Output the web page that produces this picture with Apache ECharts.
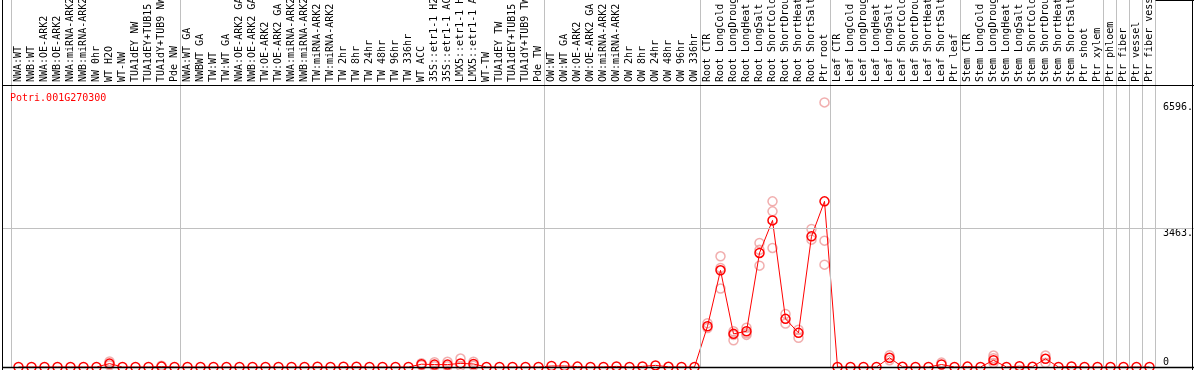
<!DOCTYPE html>
<html>
<head>
<meta charset="utf-8">
<script src="https://cdn.jsdelivr.net/npm/echarts@6/dist/echarts.min.js"></script>
<style>
html, body { margin: 0; padding: 0; background: #fff; }
#chart { width: 1194px; height: 370px; }
</style>
</head>
<body>
<div id="chart"></div>
<script>
// valeurs
const geneId = 'Potri.001G270300';

const categories = [
    'NWA:WT', 'NWB:WT', 'NWA:OE-ARK2', 'NWB:OE-ARK2', 'NWA:miRNA-ARK2', 'NWB:miRNA-ARK2',
    'NW 0hr', 'WT H2O', 'WT-NW', 'TUA1dEY NW', 'TUA1dEY+TUB15 NW', 'TUA1dY+TUB9 NW', 'Pde NW',
    'NWA:WT GA', 'NWBWT GA', 'TW:WT', 'TW:WT GA', 'NWA:OE-ARK2 GA', 'NWB:OE-ARK2 GA',
    'TW:OE-ARK2', 'TW:OE-ARK2 GA', 'NWA:miRNA-ARK2', 'NWB:miRNA-ARK2', 'TW:miRNA-ARK2',
    'TW:miRNA-ARK2', 'TW 2hr', 'TW 8hr', 'TW 24hr', 'TW 48hr', 'TW 96hr', 'TW 336hr',
    'WT ACC', '35S::etr1-1 H2O', '35S::etr1-1 ACC', 'LMX5::etr1-1 H2O', 'LMX5::etr1-1 ACC',
    'WT-TW', 'TUA1dEY TW', 'TUA1dEY+TUB15 TW', 'TUA1dY+TUB9 TW', 'Pde TW',
    'OW:WT', 'OW:WT GA', 'OW:OE-ARK2', 'OW:OE-ARK2 GA', 'OW:miRNA-ARK2', 'OW:miRNA-ARK2',
    'OW 2hr', 'OW 8hr', 'OW 24hr', 'OW 48hr', 'OW 96hr', 'OW 336hr',
    'Root CTR', 'Root LongCold', 'Root LongDrought', 'Root LongHeat', 'Root LongSalt',
    'Root ShortCold', 'Root ShortDrought', 'Root ShortHeat', 'Root ShortSalt', 'Ptr root',
    'Leaf CTR', 'Leaf LongCold', 'Leaf LongDrought', 'Leaf LongHeat', 'Leaf LongSalt',
    'Leaf ShortCold', 'Leaf ShortDrought', 'Leaf ShortHeat', 'Leaf ShortSalt', 'Ptr leaf',
    'Stem CTR', 'Stem LongCold', 'Stem LongDrought', 'Stem LongHeat', 'Stem LongSalt',
    'Stem ShortCold', 'Stem ShortDrought', 'Stem ShortHeat', 'Stem ShortSalt', 'Ptr shoot',
    'Ptr xylem', 'Ptr phloem', 'Ptr fiber', 'Ptr vessel', 'Ptr fiber vessel'
];

const meanValues = [
    0, 0, 0, 0, 0, 0, 0, 85, 0, 0, 0, 10, 0,
    0, 0, 0, 0, 0, 0, 0, 0, 0, 0, 8, 0, 8, 8, 0, 0, 0, 0,
    70, 60, 60, 90, 75, 0, 0, 0, 0, 0,
    25, 25, 10, 0, 3, 15, 0, 15, 40, 5, 0, 0,
    1016, 2410, 826, 891, 2843, 3655, 1200, 851, 3257, 4129,
    0, 0, 0, 0, 229, 5, 0, 0, 62, 0,
    10, 0, 169, 0, 20, 5, 204, 0, 15, 0,
    0, 0, 0, 0, 0
];

// répliques visibles (les autres sont cachées sous la moyenne)
const replicatePoints = [
    ['WT H2O', 135], ['WT H2O', 45], ['TUA1dY+TUB9 NW', 30],
    ['WT ACC', 95], ['WT ACC', 45],
    ['35S::etr1-1 H2O', 120], ['35S::etr1-1 H2O', 20],
    ['35S::etr1-1 ACC', 130], ['35S::etr1-1 ACC', 20],
    ['LMX5::etr1-1 H2O', 210], ['LMX5::etr1-1 H2O', 25],
    ['LMX5::etr1-1 ACC', 130], ['LMX5::etr1-1 ACC', 30],
    ['Root CTR', 1090], ['Root CTR', 970],
    ['Root LongCold', 2759], ['Root LongCold', 2470], ['Root LongCold', 1955],
    ['Root LongDrought', 890], ['Root LongDrought', 667], ['Root LongDrought', 800],
    ['Root LongHeat', 980], ['Root LongHeat', 840], ['Root LongHeat', 800],
    ['Root LongSalt', 3092], ['Root LongSalt', 2920], ['Root LongSalt', 2527],
    ['Root ShortCold', 4129], ['Root ShortCold', 3880], ['Root ShortCold', 2968],
    ['Root ShortDrought', 1324], ['Root ShortDrought', 1083],
    ['Root ShortHeat', 930], ['Root ShortHeat', 727],
    ['Root ShortSalt', 3441], ['Root ShortSalt', 3175],
    ['Ptr root', 6596], ['Ptr root', 3150], ['Ptr root', 2552],
    ['Leaf LongSalt', 290], ['Leaf LongSalt', 170], ['Leaf ShortSalt', 110],
    ['Stem LongDrought', 286], ['Stem LongDrought', 220], ['Stem LongDrought', 100],
    ['Stem ShortDrought', 286], ['Stem ShortDrought', 104]
];

const yTickValues = [0, 3463, 6596];
const yTickLabels = ['0', '3463.', '6596.'];
const yMax = 7030;

// séparateurs de groupes : après ces catégories
const groupEnds = ['Pde NW', 'Pde TW', 'OW 336hr', 'Ptr root', 'Ptr leaf',
    'Ptr xylem', 'Ptr phloem', 'Ptr fiber', 'Ptr vessel', 'Ptr fiber vessel'];

const mono = 'DejaVu Sans Mono';
const W = 1194, H = 370;

var dom = document.getElementById('chart');
var myChart = echarts.init(dom, null, { renderer: 'canvas' });

var option = {
    animation: false,
    backgroundColor: '#fff',
    title: {
        text: geneId,
        left: 10,
        top: 93,
        padding: 0,
        textStyle: { color: '#ff0000', fontFamily: mono, fontSize: 10, fontWeight: 'normal' }
    },
    grid: { left: 12, right: 38, top: 85, bottom: 3, containLabel: false, outerBoundsMode: 'none' },
    xAxis: {
        type: 'category',
        position: 'top',
        data: categories,
        boundaryGap: true,
        axisLine: { show: false },
        axisTick: { show: false },
        splitLine: { show: false },
        axisLabel: {
            interval: 0,
            rotate: 90,
            margin: 3,
            color: '#000',
            fontFamily: mono,
            fontSize: 10,
            hideOverlap: false
        }
    },
    yAxis: {
        type: 'value',
        position: 'right',
        min: 0,
        max: yMax,
        axisLine: { show: false },
        axisTick: { show: false },
        splitLine: { show: false },
        axisLabel: {
            customValues: yTickValues,
            margin: 7,
            color: '#000',
            fontFamily: mono,
            fontSize: 10,
            align: 'left',
            verticalAlign: 'top',
            verticalAlignMinLabel: 'bottom',
            formatter: function (v) {
                return yTickLabels[yTickValues.indexOf(v)];
            }
        }
    },
    series: [
        {
            name: 'replicates',
            type: 'scatter',
            z: 1,
            symbol: 'circle',
            symbolSize: 9,
            itemStyle: { color: 'rgba(0,0,0,0)', borderColor: '#ee9a9a', borderWidth: 1.5 },
            data: replicatePoints.map(p => [categories.indexOf(p[0]), p[1]])
        },
        {
            name: 'mean',
            type: 'line',
            z: 3,
            symbol: 'circle',
            symbolSize: 9,
            showAllSymbol: true,
            lineStyle: { color: '#ff0000', width: 1 },
            itemStyle: { color: 'rgba(0,0,0,0)', borderColor: '#ff0000', borderWidth: 1.5 },
            data: meanValues
        }
    ]
};

myChart.setOption(option);

// cadre et séparateurs
function drawFrame() {
    const yTop = myChart.convertToPixel({ yAxisIndex: 0 }, yMax);
    const yZero = myChart.convertToPixel({ yAxisIndex: 0 }, 0);
    const yMid = myChart.convertToPixel({ yAxisIndex: 0 }, yTickValues[1]);
    const half = (myChart.convertToPixel({ xAxisIndex: 0 }, 1) - myChart.convertToPixel({ xAxisIndex: 0 }, 0)) / 2;
    const gray = '#c0c0c0';
    let els = [];
    let xs = [myChart.convertToPixel({ xAxisIndex: 0 }, 0) - half];
    groupEnds.forEach(name => {
        xs.push(myChart.convertToPixel({ xAxisIndex: 0 }, categories.lastIndexOf(name)) + half);
    });
    xs.forEach(x => {
        els.push({ type: 'line', z: 5, silent: true,
            shape: { x1: Math.round(x) - 0.5, y1: 0, x2: Math.round(x) - 0.5, y2: yZero },
            style: { stroke: gray, lineWidth: 1 } });
    });
    els.push({ type: 'line', z: 5, silent: true,
        shape: { x1: 2, y1: Math.round(yMid) + 0.5, x2: W, y2: Math.round(yMid) + 0.5 },
        style: { stroke: gray, lineWidth: 1 } });
    // bords noirs
    const xLast = Math.round(xs[xs.length - 1]) - 0.5;
    els.push({ type: 'line', z: 10, silent: true,
        shape: { x1: xLast, y1: 0.5, x2: W, y2: 0.5 },
        style: { stroke: '#000', lineWidth: 1 } });
    els.push({ type: 'line', z: 10, silent: true,
        shape: { x1: 2, y1: Math.round(yTop) + 0.5, x2: W, y2: Math.round(yTop) + 0.5 },
        style: { stroke: '#000', lineWidth: 1 } });
    els.push({ type: 'line', z: 10, silent: true,
        shape: { x1: 2, y1: Math.round(yZero) + 0.5, x2: W, y2: Math.round(yZero) + 0.5 },
        style: { stroke: '#000', lineWidth: 1.5 } });
    els.push({ type: 'line', z: 10, silent: true,
        shape: { x1: 2.5, y1: 0, x2: 2.5, y2: H },
        style: { stroke: '#000', lineWidth: 1 } });
    els.push({ type: 'line', z: 10, silent: true,
        shape: { x1: W - 1.5, y1: 0, x2: W - 1.5, y2: H },
        style: { stroke: '#000', lineWidth: 1 } });
    myChart.setOption({ graphic: { elements: els } });
}
drawFrame();

window.addEventListener('resize', myChart.resize);
</script>
</body>
</html>
